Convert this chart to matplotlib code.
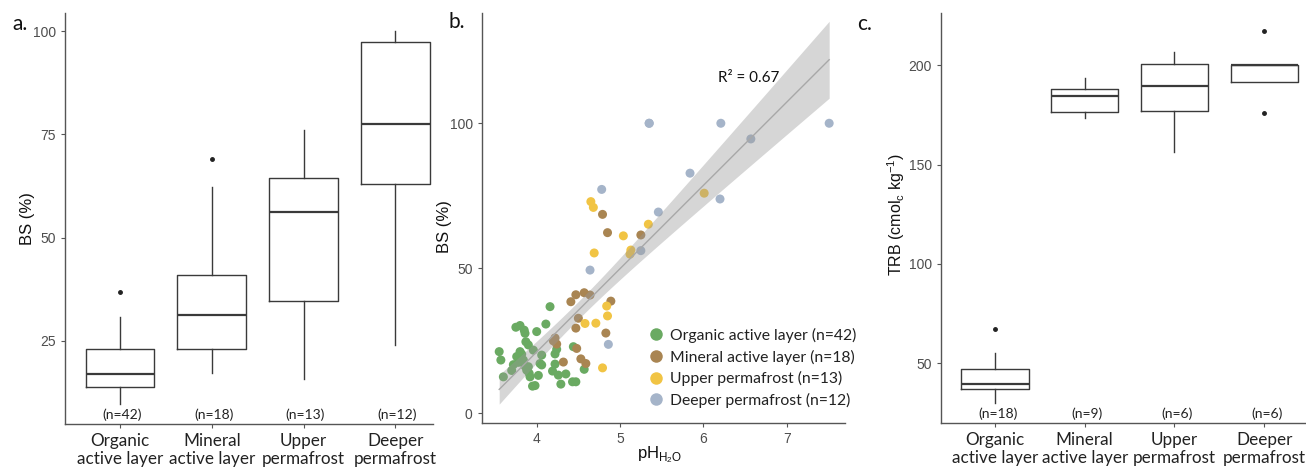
import numpy as np
import matplotlib
matplotlib.use("Agg")
import matplotlib.pyplot as plt
from matplotlib.lines import Line2D

# ---------------- data ----------------
categories = ["Organic\nactive layer", "Mineral\nactive layer", "Upper\npermafrost", "Deeper\npermafrost"]

# Panel a: BS (%) box statistics (whislo, q1, med, q3, whishi, fliers)
bs_whislo = [9.8, 17.3, 15.8, 24.0]
bs_q1 = [13.8, 23.0, 34.7, 63.1]
bs_med = [17.0, 31.3, 56.2, 77.6]
bs_q3 = [23.0, 41.0, 64.4, 97.3]
bs_whishi = [30.7, 62.3, 76.0, 100.0]
bs_fliers = [[36.9], [69.0], [], []]
bs_n = ["(n=42)", "(n=18)", "(n=13)", "(n=12)"]

# Panel c: TRB box statistics
trb_whislo = [29.8, 173.7, 156.4, 191.6]
trb_q1 = [36.9, 176.5, 176.9, 191.6]
trb_med = [39.4, 184.8, 189.8, 200.3]
trb_q3 = [46.9, 188.3, 200.7, 200.3]
trb_whishi = [55.0, 193.8, 206.7, 200.3]
trb_fliers = [[67.2], [], [], [217.1, 176.2]]
trb_n = ["(n=18)", "(n=9)", "(n=6)", "(n=6)"]

# Panel b: pH vs BS scatter
organic_ph = [3.55, 3.57, 3.60, 3.70, 3.72, 3.76, 3.78, 3.80, 3.82, 3.84, 3.86, 3.88, 3.90, 3.91,
              3.92, 3.95, 3.98, 4.02, 4.04, 4.06, 4.06, 4.00, 4.11, 4.16, 3.75, 3.80, 3.85, 3.86,
              3.87, 3.90, 3.96, 4.22, 4.24, 4.22, 4.19, 4.26, 4.29, 4.35, 4.44, 4.43, 4.47, 4.57]
organic_bs = [21.3, 18.4, 12.6, 14.8, 16.8, 19.6, 17.6, 21.3, 20.4, 18.4, 16.3, 14.9, 16.1, 13.8,
              12.6, 9.4, 9.6, 13.1, 17.2, 20.1, 16.7, 28.2, 30.8, 36.8, 29.7, 30.3, 28.7, 27.6,
              24.7, 23.6, 21.8, 20.5, 22.1, 17.0, 14.6, 13.2, 10.1, 13.6, 23.0, 10.9, 10.9, 15.2]
mineral_ph = [4.79, 4.85, 5.25, 4.57, 4.47, 4.64, 4.41, 4.89, 4.50, 4.47, 4.83, 4.20, 4.24,
              4.48, 4.53, 4.59, 4.32, 4.22]
mineral_bs = [68.6, 62.3, 61.5, 41.6, 40.9, 40.8, 38.5, 38.7, 32.8, 29.4, 27.7, 25.0, 23.9,
              22.4, 18.8, 17.2, 17.7, 26.0]
upper_ph = [6.01, 4.65, 4.68, 5.34, 5.04, 5.13, 5.12, 4.69, 4.84, 4.85, 4.58, 4.71, 4.79]
upper_bs = [75.9, 73.0, 71.0, 65.2, 61.2, 56.3, 54.9, 55.3, 37.0, 33.6, 31.0, 31.1, 15.7]
deeper_ph = [5.35, 6.21, 7.51, 6.57, 5.84, 4.78, 6.20, 5.46, 5.25, 4.64, 4.86, 5.35]
deeper_bs = [100.0, 100.0, 100.0, 94.6, 82.8, 77.2, 73.9, 69.4, 56.1, 49.4, 23.8, 100.0]
series_labels = ["Organic active layer (n=42)", "Mineral active layer (n=18)",
                 "Upper permafrost (n=13)", "Deeper permafrost (n=12)"]
r2_text = "R² = 0.67"

# ---------------- style ----------------
W, H = 1306, 470
fig = plt.figure(figsize=(W / 100, H / 100), dpi=100)
SANS = "Liberation Sans"
CAL = "Lato"
TICK_COL = "#4d4d4d"
AX_COL = "#555555"
BOX_COL = "#3a3a3a"
colors = ["#6aaa62", "#a98552", "#f1c444", "#a5b4c9"]


def px_axes(l, r, t, b):
    return fig.add_axes([l / W, (H - b) / H, (r - l) / W, (b - t) / H])


def style_axes(ax):
    for s in ["top", "right"]:
        ax.spines[s].set_visible(False)
    for s in ["left", "bottom"]:
        ax.spines[s].set_color(AX_COL)
        ax.spines[s].set_linewidth(1.0)
    ax.tick_params(axis="both", colors=AX_COL, length=3, width=0.8, labelcolor=TICK_COL)
    for lab in ax.get_yticklabels() + ax.get_xticklabels():
        lab.set_fontfamily(SANS)


def boxpanel(ax, whislo, q1, med, q3, whishi, fliers):
    stats = []
    for i in range(len(med)):
        stats.append(dict(whislo=whislo[i], q1=q1[i], med=med[i], q3=q3[i],
                          whishi=whishi[i], fliers=fliers[i]))
    ax.bxp(stats, positions=range(1, len(med) + 1), widths=0.75, showcaps=False,
           boxprops=dict(color=BOX_COL, linewidth=1.0),
           whiskerprops=dict(color=BOX_COL, linewidth=1.0),
           medianprops=dict(color=BOX_COL, linewidth=1.6),
           flierprops=dict(marker="o", markersize=2.5, markerfacecolor="#222222",
                           markeredgecolor="#222222"))


# ---------------- panel a ----------------
axa = px_axes(65, 433, 13, 424)
boxpanel(axa, bs_whislo, bs_q1, bs_med, bs_q3, bs_whishi, bs_fliers)
axa.set_xlim(0.4, 4.41)
axa.set_ylim(4.9, 104.4)
axa.set_yticks([25, 50, 75, 100])
axa.set_yticklabels(["25", "50", "75", "100"], fontsize=10)
axa.set_xticks([1, 2, 3, 4])
axa.set_xticklabels(categories, fontsize=12.3, linespacing=1.12)
style_axes(axa)
for lab in axa.get_xticklabels():
    lab.set_fontfamily(CAL)
    lab.set_color("#222222")
axa.set_ylabel("BS (%)", fontfamily=SANS, fontsize=12, color="#111111")
axa.yaxis.set_label_coords(-0.082, 0.5)
for i, t in enumerate(bs_n):
    axa.text(i + 1.02, 7.2, t, ha="center", va="center", fontfamily=CAL, fontsize=10, color="#222222")
fig.text(12 / W, 1 - 24 / H, "a.", fontfamily=CAL, fontsize=15, va="center", ha="left", color="#111111")

# ---------------- panel b ----------------
axb = px_axes(481.7, 845, 13, 423)
groups = [(organic_ph, organic_bs), (mineral_ph, mineral_bs), (upper_ph, upper_bs), (deeper_ph, deeper_bs)]
handles = []
for (xs, ys), c, lab in zip(groups, colors, series_labels):
    axb.scatter(xs, ys, s=42, color=c, edgecolors="none", zorder=2)
    handles.append(Line2D([], [], marker="o", linestyle="none", markersize=9,
                          markerfacecolor=c, markeredgecolor="none", label=lab))

allx = np.concatenate([np.asarray(g[0], float) for g in groups])
ally = np.concatenate([np.asarray(g[1], float) for g in groups])
slope, intercept = np.polyfit(allx, ally, 1)
n = allx.size
resid = ally - (slope * allx + intercept)
s_err = np.sqrt(np.sum(resid ** 2) / (n - 2))
xg = np.linspace(allx.min(), allx.max(), 200)
yg = slope * xg + intercept
se = s_err * np.sqrt(1 / n + (xg - allx.mean()) ** 2 / np.sum((allx - allx.mean()) ** 2))
tval = 1.989
axb.fill_between(xg, yg - tval * se, yg + tval * se, color="#999999", alpha=0.4,
                 linewidth=0, zorder=3)
axb.plot(xg, yg, color="#a8a8a8", linewidth=1.0, zorder=4)

axb.set_xlim(3.34, 7.70)
axb.set_ylim(-3.3, 138.0)
axb.set_xticks([4, 5, 6, 7])
axb.set_xticklabels(["4", "5", "6", "7"], fontsize=10)
axb.set_yticks([0, 50, 100])
axb.set_yticklabels(["0", "50", "100"], fontsize=10)
style_axes(axb)
axb.set_ylabel("BS (%)", fontfamily=SANS, fontsize=12, color="#111111")
axb.yaxis.set_label_coords(-0.082, 0.48)
axb.set_xlabel(r"pH$_{\mathregular{H_2O}}$", fontfamily=SANS, fontsize=12, color="#111111")
axb.xaxis.set_label_coords(0.49, -0.052)
axb.text(6.18, 115.6, r2_text, fontfamily=CAL, fontsize=11, ha="left", va="center", color="#111111")
leg = axb.legend(handles=handles, loc="upper left", bbox_to_anchor=(0.463, 0.232),
                 frameon=False, prop=dict(family=CAL, size=11.3), handlelength=0.8,
                 handletextpad=0.5, labelspacing=0.42, borderpad=0, borderaxespad=0)
for t in leg.get_texts():
    t.set_color("#222222")
fig.text(448 / W, 1 - 22 / H, "b.", fontfamily=CAL, fontsize=15, va="center", ha="left", color="#111111")

# ---------------- panel c ----------------
axc = px_axes(940.7, 1318, 13.3, 423.3)
boxpanel(axc, trb_whislo, trb_q1, trb_med, trb_q3, trb_whishi, trb_fliers)
axc.set_xlim(0.395, 4.6)
axc.set_ylim(19.8, 226.2)
axc.set_yticks([50, 100, 150, 200])
axc.set_yticklabels(["50", "100", "150", "200"], fontsize=10)
axc.set_xticks([1, 2, 3, 4])
axc.set_xticklabels(categories, fontsize=12.3, linespacing=1.12)
style_axes(axc)
for lab in axc.get_xticklabels():
    lab.set_fontfamily(CAL)
    lab.set_color("#222222")
axc.set_ylabel(r"TRB (cmol$_{\mathregular{c}}$ kg$^{\mathregular{-1}}$)", fontfamily=SANS,
               fontsize=11.5, color="#111111")
axc.yaxis.set_label_coords(-0.088, 0.51)
for i, t in enumerate(trb_n):
    axc.text(i + 1.03, 24.6, t, ha="center", va="center", fontfamily=CAL, fontsize=10, color="#222222")
fig.text(857 / W, 1 - 24 / H, "c.", fontfamily=CAL, fontsize=15, va="center", ha="left", color="#111111")

fig.savefig("out.png", dpi=100, facecolor="white")
